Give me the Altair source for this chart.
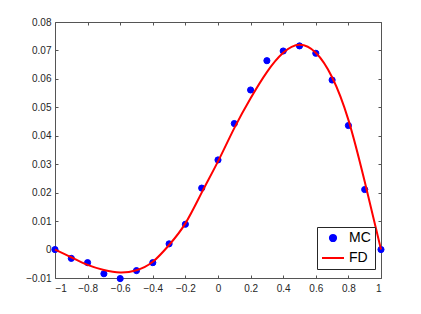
import altair as alt
import pandas as pd

# Monte Carlo samples (MC)
mc_x = [-1.0, -0.9, -0.8, -0.7, -0.6, -0.5, -0.4, -0.3, -0.2, -0.1, 0.0,
        0.1, 0.2, 0.3, 0.4, 0.5, 0.6, 0.7, 0.8, 0.9, 1.0]
mc_y = [0.0, -0.0031, -0.0046, -0.0085, -0.0102, -0.0074, -0.0046, 0.0020, 0.0089, 0.0216, 0.0315,
        0.0443, 0.0561, 0.0664, 0.0698, 0.0716, 0.0690, 0.0596, 0.0436, 0.0211, 0.0]

# Finite-difference solution (FD)
fd_x = [-1.0, -0.9, -0.8, -0.7, -0.6, -0.5, -0.4, -0.3, -0.2, -0.1, 0.0,
        0.1, 0.2, 0.3, 0.4, 0.5, 0.6, 0.7, 0.8, 0.9, 1.0]
fd_y = [0.0, -0.0027, -0.0054, -0.0072, -0.0081, -0.0073, -0.0043, 0.0016, 0.0092, 0.0200, 0.0310,
        0.0427, 0.0532, 0.0624, 0.0692, 0.0720, 0.0692, 0.0606, 0.0456, 0.0239, 0.0]

series_names = ["MC", "FD"]
series_colors = ["#0000ff", "#ff0000"]

x_ticks = [-1, -0.8, -0.6, -0.4, -0.2, 0, 0.2, 0.4, 0.6, 0.8, 1]
y_ticks = [-0.01, 0, 0.01, 0.02, 0.03, 0.04, 0.05, 0.06, 0.07, 0.08]

mc = pd.DataFrame({"x": mc_x, "y": mc_y, "series": "MC"})
fd = pd.DataFrame({"x": fd_x, "y": fd_y})

AX = "#262626"
FONT = "Liberation Sans"
xs = alt.Scale(domain=[-1, 1], nice=False)
ys = alt.Scale(domain=[-0.01, 0.08], nice=False)

common_axis = dict(domain=False, grid=False, tickSize=3, offset=-3, tickColor="#555555",
                   labelFont=FONT, labelFontSize=10, labelColor=AX)

x_bottom = alt.Axis(orient="bottom", values=x_ticks, title=None, labelPadding=5,
                    labelExpr="datum.value == 0 ? '0' : format(datum.value, '.1~f')",
                    **common_axis)
y_left = alt.Axis(orient="left", values=y_ticks, title=None, labelPadding=4,
                  labelExpr="datum.value == 0 ? '0' : format(datum.value, '.2f')",
                  **common_axis)
x_top = alt.Axis(orient="top", values=x_ticks, title=None, labels=False, **common_axis)
y_right = alt.Axis(orient="right", values=y_ticks, title=None, labels=False, **common_axis)

legend = alt.Legend(title=None, orient="none", legendX=262, legendY=205,
                    labelFont=FONT, labelFontSize=14, labelColor="#000000",
                    fillColor="white", strokeColor=AX, padding=4,
                    symbolStrokeWidth=2, rowPadding=0, labelOffset=4)

points = alt.Chart(mc).mark_point(filled=False, fill="#0000ff", strokeWidth=1, opacity=1).encode(
    x=alt.X("x:Q", scale=xs, axis=x_bottom),
    y=alt.Y("y:Q", scale=ys, axis=y_left),
    color=alt.Color("series:N", scale=alt.Scale(domain=series_names, range=series_colors), legend=legend),
    shape=alt.Shape("series:N", scale=alt.Scale(domain=series_names, range=["circle", "stroke"]), legend=legend),
    size=alt.Size("series:N", scale=alt.Scale(domain=series_names, range=[38, 484]), legend=legend),
)

line = alt.Chart(fd).mark_line(color="#ff0000", strokeWidth=2, interpolate="natural").encode(
    x=alt.X("x:Q", scale=xs, axis=x_top),
    y=alt.Y("y:Q", scale=ys, axis=y_right),
)

chart = alt.layer(points, line).resolve_axis(x="independent", y="independent").properties(
    width=326, height=256,
    autosize=alt.AutoSizeParams(type="none"),
    padding={"left": 47, "top": 14, "right": 32, "bottom": 28},
    background="white",
).configure_view(stroke="#555555", strokeWidth=1)

chart.save("out.html", embed_options={"renderer": "svg", "actions": False})
